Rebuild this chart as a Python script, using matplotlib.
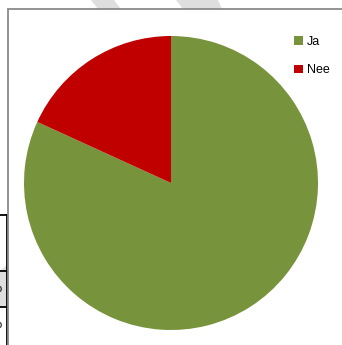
import matplotlib.pyplot as plt
from matplotlib.patches import Polygon, Rectangle
from matplotlib.lines import Line2D

labels = ['Ja', 'Nee']
counts = [9, 2]
colors = ['#77933C', '#C00000']

W, H = 342, 345


def px(x, y):
    # pixel position (from top-left) to figure fraction
    return (x / W, 1 - y / H)


fig = plt.figure(figsize=(W / 100, H / 100), dpi=100)
fig.patch.set_facecolor('white')

# faint grey stripes behind the chart frame
for pts in ([(91, 0), (114, 0), (121, 9), (98, 9)],
            [(176, 0), (218, 0), (222, 9), (183, 9)],
            [(0, 271), (7, 265), (7, 307), (0, 307)]):
    fig.patches.append(Polygon([px(*p) for p in pts], closed=True,
                               transform=fig.transFigure, facecolor='#dedede',
                               edgecolor='none', zorder=0))

# bits of the table to the left of the chart
for (x0, y0, x1, y1) in ((0, 215, 7, 215), (0, 271, 7, 271), (0, 307, 7, 307),
                         (7, 215, 7, 345)):
    a, b = px(x0, y0)
    c, d = px(x1, y1)
    fig.lines.append(Line2D([a, c], [b, d], transform=fig.transFigure,
                            color='black', lw=1.3, zorder=1))
for y in (289, 325):
    fig.text(*px(-4, y), 'o', fontsize=8, va='center', ha='left',
             family='Liberation Sans', zorder=1)

# chart frame
x0, y0 = px(8, 9)
fig.patches.append(Rectangle((x0, -0.05), 1.1, y0 + 0.05,
                             transform=fig.transFigure, facecolor='white',
                             edgecolor='#8a8a8a', lw=1.3, zorder=2))

cx, cy, r = 171, 183, 147
ax = fig.add_axes([(cx - r) / W, (H - cy - r) / H, 2 * r / W, 2 * r / H])
ax.set_zorder(3)
wedges, _ = ax.pie(counts, colors=colors, startangle=90, counterclock=False,
                   radius=1.0, wedgeprops=dict(linewidth=0))
ax.set_xlim(-1, 1)
ax.set_ylim(-1, 1)
ax.set_aspect('equal')
ax.axis('off')

leg = fig.legend(wedges, labels, loc='upper left', bbox_to_anchor=px(294, 36),
                 frameon=False, handlelength=0.7, handleheight=0.7,
                 handletextpad=0.35, labelspacing=1.3,
                 prop={'family': 'Liberation Sans', 'size': 9},
                 borderpad=0, borderaxespad=0)
leg.set_zorder(4)

fig.savefig('out.png', dpi=100)
